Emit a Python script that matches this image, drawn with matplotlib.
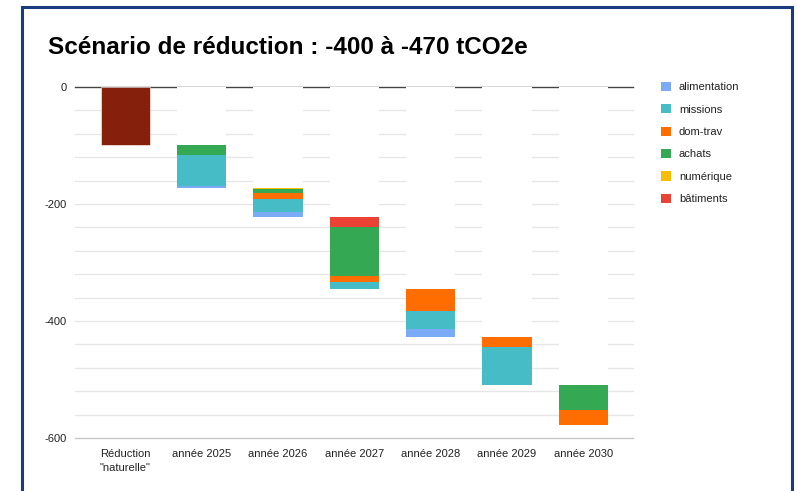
import numpy as np
import matplotlib; matplotlib.use("Agg")
import matplotlib.pyplot as plt
from matplotlib.patches import Rectangle, Patch

plt.rcParams["font.family"] = ["Liberation Sans", "DejaVu Sans"]
plt.rcParams["axes.unicode_minus"] = False

categories = ['Réduction\n"naturelle"', "année 2025", "année 2026", "année 2027",
              "année 2028", "année 2029", "année 2030"]
naturelle = [100, 0, 0, 0, 0, 0, 0]
# réductions par poste (tCO2e), empilées de haut en bas
series = ["alimentation", "missions", "dom-trav", "achats", "numérique", "bâtiments"]
alimentation = [0, 4, 9, 0, 14, 0, 0]
missions     = [0, 53, 22, 11, 30, 65, 0]
dom_trav     = [0, 0, 11, 11, 38, 18, 25]
achats       = [0, 16, 6, 84, 0, 0, 42]
numerique    = [0, 0, 2, 0, 0, 0, 0]
batiments    = [0, 0, 0, 16, 0, 0, 0]
colors = {"alimentation": "#7baaf7", "missions": "#46bdc6", "dom-trav": "#ff6d01",
          "achats": "#34a853", "numérique": "#fbbc04", "bâtiments": "#ea4335"}
values = {"alimentation": alimentation, "missions": missions, "dom-trav": dom_trav,
          "achats": achats, "numérique": numerique, "bâtiments": batiments}

fig = plt.figure(figsize=(7.97, 4.91), dpi=100)
ax = fig.add_axes([0.0941, 0.108, 0.700, 0.7149])

x = np.arange(len(categories))
W = 0.646
# grille
for v in np.arange(0, -601, -40):
    c, lw = ("#e6e6e6", 1.0)
    if v == 0: c, lw = ("#444444", 1.0)
    if v == -600: c, lw = ("#c8c8c8", 1.0)
    ax.axhline(v, color=c, lw=lw, zorder=0, clip_on=False)

totals = np.array(naturelle) + sum(np.array(values[s]) for s in series)
base = -np.concatenate([[0], np.cumsum(totals)[:-1]])
# base invisible (blanche) qui masque la grille, comme dans Sheets
ax.bar(x[1:], base[1:], W, color="white", zorder=1)
ax.bar(x, -np.array(naturelle), W, bottom=base, color="#85200c",
       edgecolor="#ffffff", lw=0.4, zorder=2)
top = base - np.array(naturelle)
for s in ["bâtiments", "numérique", "achats", "dom-trav", "missions", "alimentation"]:
    h = -np.array(values[s])
    ax.bar(x, h, W, bottom=top, color=colors[s], zorder=2)
    top = top + h

ax.set_xlim(-0.66, 6.65)
ax.set_ylim(-600, 0)
ax.set_yticks([0, -200, -400, -600])
ax.set_xticks(x)
ax.set_xticklabels(categories, fontsize=8, color="#222222", linespacing=1.5)
ax.tick_params(axis="y", labelsize=8, labelcolor="#222222", length=0, pad=6)
ax.tick_params(axis="x", length=0, pad=8)
for sp in ax.spines.values():
    sp.set_visible(False)

handles = [Patch(facecolor=colors[s], edgecolor="none") for s in series]
fig.legend(handles, series, loc="upper left", bbox_to_anchor=(0.817, 0.854),
           frameon=False, fontsize=8, labelspacing=1.08, handlelength=0.9,
           handleheight=0.9, handletextpad=0.7, labelcolor="#222222")

fig.text(0.060, 0.890, "Scénario de réduction : -400 à -470 tCO2e",
         fontsize=17.5, fontweight="bold", va="baseline", color="#000000")

fig.patches.append(Rectangle((22 / 797, -0.05), (792 - 22) / 797, 1.05 - 7 / 491,
                             transform=fig.transFigure, fill=False,
                             edgecolor="#1c3a7e", lw=2.2))

fig.savefig("out.png", dpi=100)
